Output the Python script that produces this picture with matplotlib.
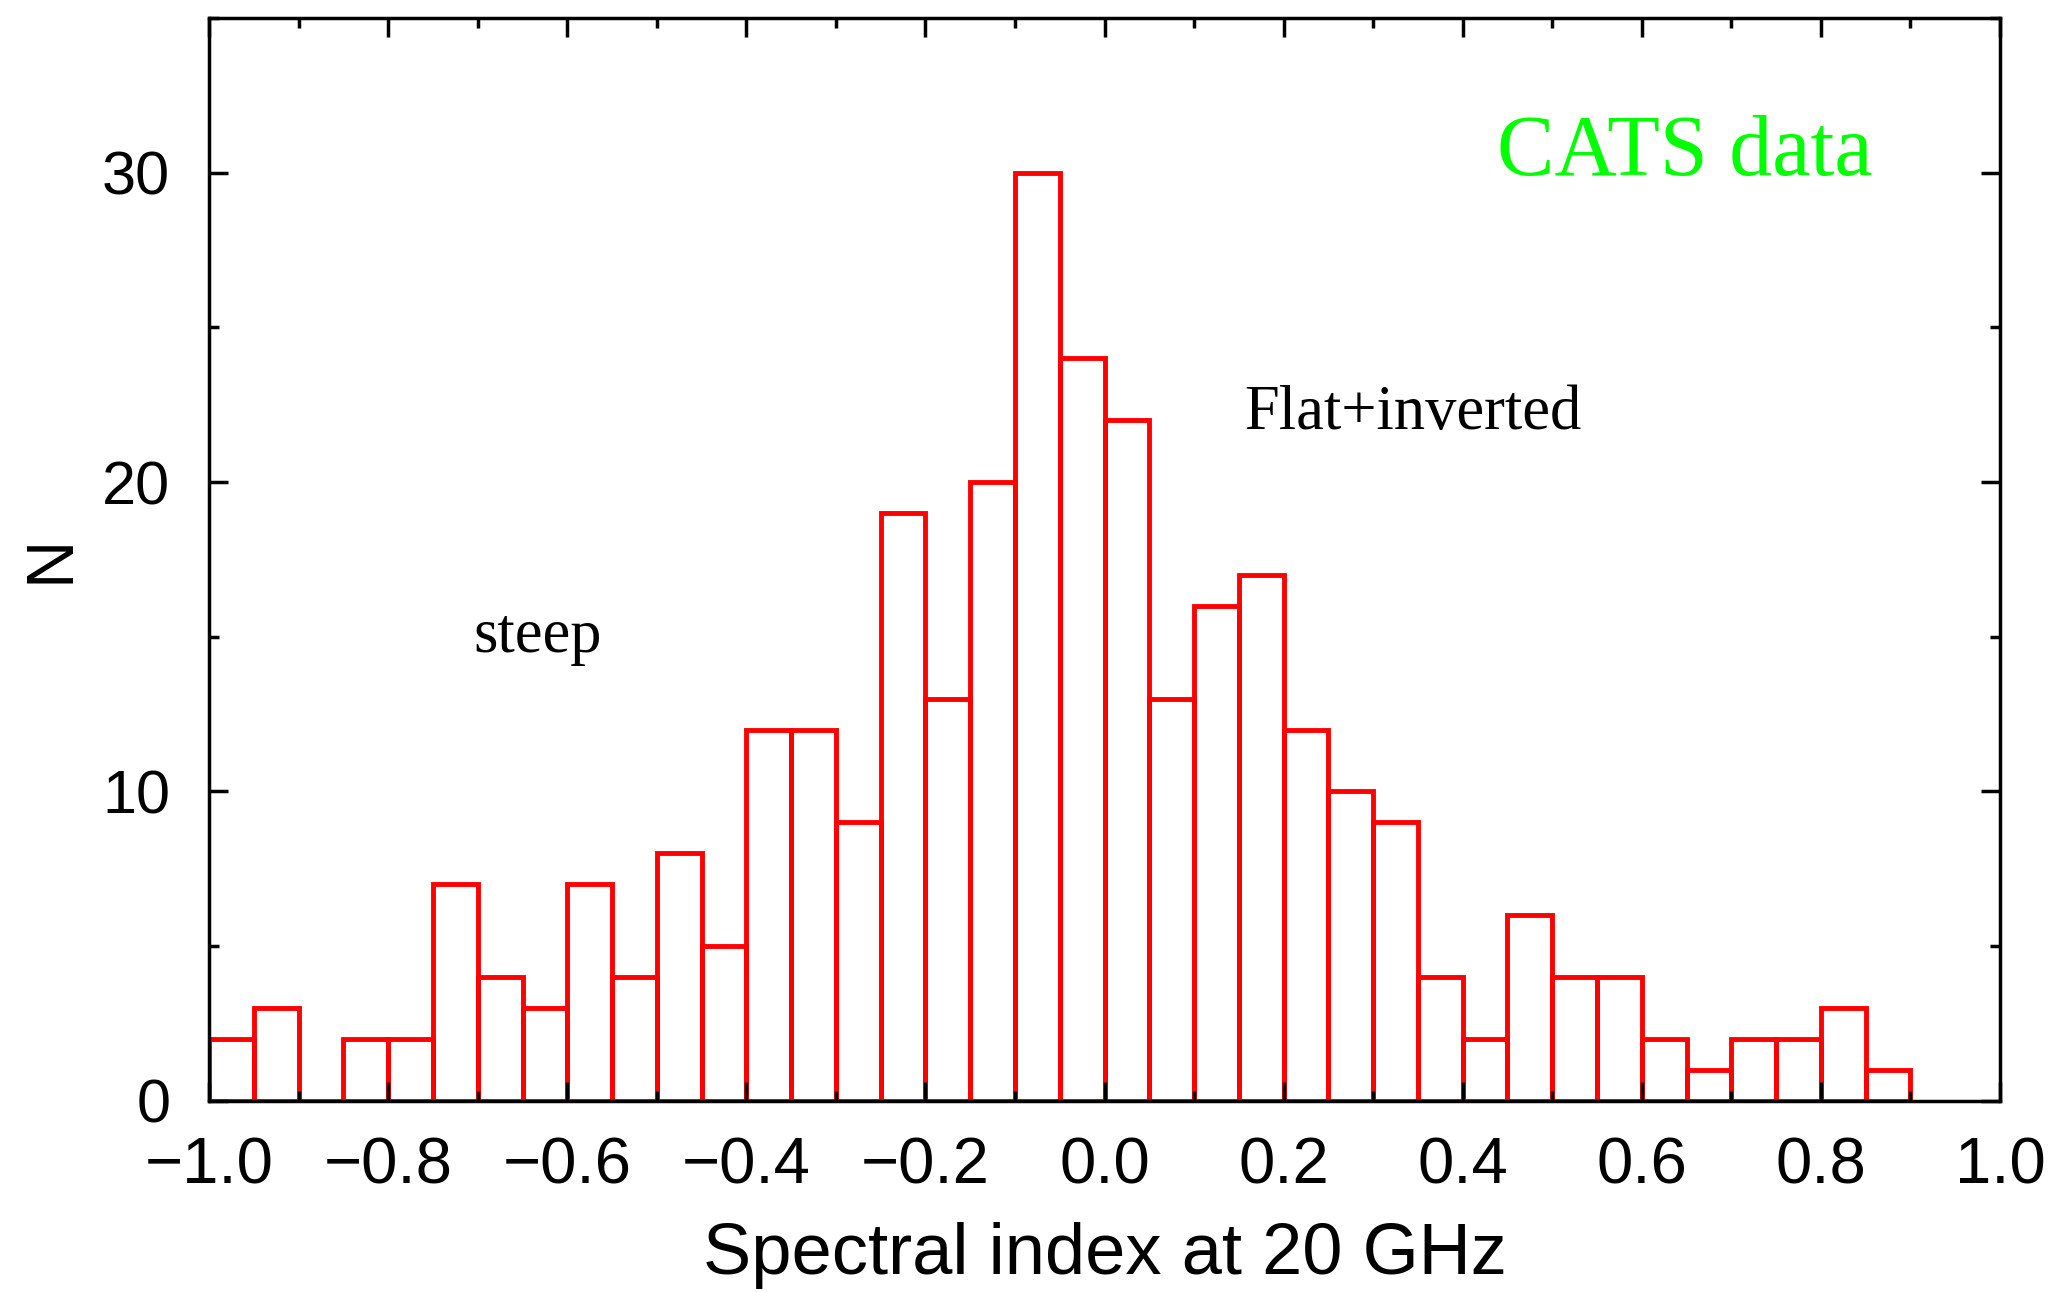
import numpy as np
import matplotlib
matplotlib.use("Agg")
import matplotlib.pyplot as plt
from matplotlib.ticker import MultipleLocator

# histogram of spectral index, bins of 0.05 from -1.0 to 0.9
bin_left = np.round(np.arange(-1.0, 0.9, 0.05), 2)
counts = [2, 3, 0, 2, 2, 7, 4, 3, 7, 4, 8, 5, 12, 12, 9, 19, 13, 20, 30, 24,
          22, 13, 16, 17, 12, 10, 9, 4, 2, 6, 4, 4, 2, 1, 2, 2, 3, 1]
bin_width = 0.05

fig = plt.figure(figsize=(20.5, 12.92), dpi=100)
ax = fig.add_axes([0.102, 0.148, 0.8736, 0.838])

ax.bar(bin_left, counts, width=bin_width, align='edge', fill=False,
       edgecolor='#ff0000', linewidth=3.5)

ax.set_xlim(-1.0, 1.0)
ax.set_ylim(0, 35)
ax.xaxis.set_major_locator(MultipleLocator(0.2))
ax.xaxis.set_minor_locator(MultipleLocator(0.1))
ax.yaxis.set_major_locator(MultipleLocator(10))
ax.yaxis.set_minor_locator(MultipleLocator(5))
ax.set_xticklabels([f"{v:.1f}".replace('-', '\u2212') for v in ax.get_xticks()])

ax.tick_params(which='both', direction='in', top=True, right=True, width=2.5)
ax.tick_params(which='major', length=14)
ax.tick_params(which='minor', length=7)
ax.tick_params(axis='x', labelsize=47, pad=26)
ax.tick_params(axis='y', labelsize=44, pad=28)
for lab in ax.get_xticklabels() + ax.get_yticklabels():
    lab.set_family('Liberation Sans')
for s in ax.spines.values():
    s.set_linewidth(2.5)

ax.set_xlabel('Spectral index at 20 GHz', fontsize=52, family='Liberation Sans', labelpad=18)
ax.set_ylabel('N', fontsize=48, family='Liberation Sans', labelpad=14)

ax.text(-0.705, 15.0, 'steep', fontsize=45, family='Liberation Serif', va='center')
ax.text(0.156, 22.2, 'Flat+inverted', fontsize=45, family='Liberation Serif', va='center')
ax.text(0.438, 30.6, 'CATS data', fontsize=62, family='Liberation Serif', va='center',
        color='#00ff00')

plt.savefig('out.png', dpi=100)
